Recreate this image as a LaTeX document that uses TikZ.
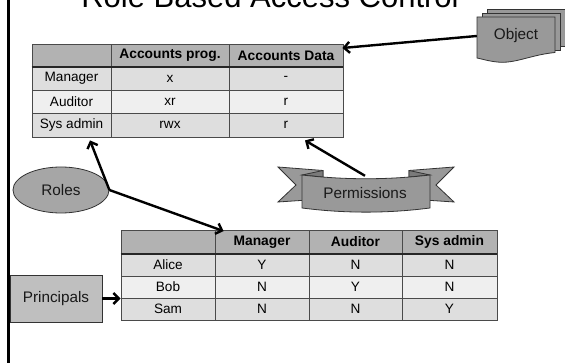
\documentclass[tikz,border=0pt]{standalone}
\usepackage{fontspec}
\setmainfont{Liberation Sans}
\usetikzlibrary{arrows.meta,shapes.geometric}

\definecolor{hdrgray}{HTML}{B2B2B2}
\definecolor{rowdark}{HTML}{DEDEDE}
\definecolor{rowlight}{HTML}{EFEFEF}
\definecolor{gridline}{HTML}{4A4A4A}
\definecolor{shapegray}{HTML}{999999}
\definecolor{rolegray}{HTML}{A6A6A6}
\definecolor{princgray}{HTML}{BFBFBF}
\definecolor{foldgray}{HTML}{7A7A7A}

\tikzset{
  cellbox/.style={draw=gridline, line width=0.8pt, inner sep=0pt, anchor=center,
    font=\fontsize{13.6}{15}\selectfont},
  hdrcell/.style={cellbox, fill=hdrgray, font=\fontsize{13.8}{15}\selectfont\bfseries},
  rowA/.style={cellbox, fill=rowdark},
  rowB/.style={cellbox, fill=rowlight},
  hdrline/.style={draw=black!85, line width=1.8pt},
  arr/.style={line width=2.4pt, -{Straight Barb[length=5.5pt,width=11pt]}},
  label/.style={font=\fontsize{15.3}{18}\selectfont, text=black!90},
  shapeline/.style={draw=black!80, line width=0.8pt},
}

% one table cell: name, centre x, centre y, width, height, style, text
\newcommand\tabcell[7]{%
  \node[#6, minimum width=#4pt, minimum height=#5pt] (#1) at (#2,#3) {#7};}

\begin{document}
\begin{tikzpicture}[x=1pt,y=-1pt]
\useasboundingbox (0,0) rectangle (565,363);
\fill[white] (0,0) rectangle (565,363);

% title, running off the top edge
\begin{scope}
\clip (0,0) rectangle (565,363);
\node[anchor=base, font=\fontsize{31}{36}\selectfont, inner sep=0pt] (title) at (270,7.5) {Role Based Access Control};
\end{scope}

% left margin rule
\draw[line width=2.7pt] (8.7,0) -- (8.7,363);

% ---------- permission table ----------
\tabcell{ta00}{71.5}{55.5}{79}{23}{hdrcell}{}
\tabcell{ta01}{170}{55.5}{118}{23}{hdrcell}{Accounts prog.}
\tabcell{ta02}{286}{55.5}{114}{23}{hdrcell}{Accounts Data}
\tabcell{ta10}{71.5}{78.5}{79}{23}{rowA}{Manager}
\tabcell{ta11}{170}{78.5}{118}{23}{rowA}{x}
\tabcell{ta12}{286}{78.5}{114}{23}{rowA}{-}
\tabcell{ta20}{71.5}{101.5}{79}{23}{rowB}{Auditor}
\tabcell{ta21}{170}{101.5}{118}{23}{rowB}{xr}
\tabcell{ta22}{286}{101.5}{114}{23}{rowB}{r}
\tabcell{ta30}{71.5}{125}{79}{24}{rowA}{Sys admin}
\tabcell{ta31}{170}{125}{118}{24}{rowA}{rwx}
\tabcell{ta32}{286}{125}{114}{24}{rowA}{r}
\draw[hdrline] (ta00.south west) -- (ta02.south east);

% ---------- role assignment table ----------
\tabcell{tb00}{168}{242}{94}{24}{hdrcell}{}
\tabcell{tb01}{262}{242}{94}{24}{hdrcell}{Manager}
\tabcell{tb02}{355.5}{242}{93}{24}{hdrcell}{Auditor}
\tabcell{tb03}{449.5}{242}{95}{24}{hdrcell}{Sys admin}
\tabcell{tb10}{168}{265}{94}{22}{rowA}{Alice}
\tabcell{tb11}{262}{265}{94}{22}{rowA}{Y}
\tabcell{tb12}{355.5}{265}{93}{22}{rowA}{N}
\tabcell{tb13}{449.5}{265}{95}{22}{rowA}{N}
\tabcell{tb20}{168}{287}{94}{22}{rowB}{Bob}
\tabcell{tb21}{262}{287}{94}{22}{rowB}{N}
\tabcell{tb22}{355.5}{287}{93}{22}{rowB}{Y}
\tabcell{tb23}{449.5}{287}{95}{22}{rowB}{N}
\tabcell{tb30}{168}{309}{94}{22}{rowA}{Sam}
\tabcell{tb31}{262}{309}{94}{22}{rowA}{N}
\tabcell{tb32}{355.5}{309}{93}{22}{rowA}{N}
\tabcell{tb33}{449.5}{309}{95}{22}{rowA}{Y}
\draw[hdrline] (tb00.south west) -- (tb03.south east);

% ---------- stacked documents ----------
\begin{scope}
\clip (0,0) rectangle (565,363);
\filldraw[shapeline, fill=shapegray] (487,9) rectangle (566,46);
\filldraw[shapeline, fill=shapegray] (482,13) rectangle (560,50);
\filldraw[shapeline, fill=shapegray] (477,17) -- (555,17) -- (555,52.5)
  .. controls (530,55) and (515,64) .. (497,62)
  .. controls (488,61) and (482,59) .. (477,58) -- cycle;
\end{scope}
\node[label, minimum width=78pt, minimum height=38pt] (obj) at (516,36) {Object};

% ---------- ribbon ----------
\filldraw[shapeline, fill=shapegray] (278,167) -- (323,170.5) -- (323,199) -- (278,202) -- (296,185) -- cycle;
\filldraw[shapeline, fill=shapegray] (454,167) -- (409,170.5) -- (409,199) -- (454,202) -- (436,185) -- cycle;
\filldraw[shapeline, fill=foldgray] (302,175) -- (323,170.5) -- (323,177) -- cycle;
\filldraw[shapeline, fill=foldgray] (430,175) -- (409,170.5) -- (409,177) -- cycle;
\filldraw[shapeline, fill=shapegray] (302,175) .. controls (345,180) and (387,180) .. (430,175)
  -- (430,208) .. controls (387,213.5) and (345,213.5) .. (302,208) -- cycle;
\node[label, minimum width=128pt, minimum height=34pt, inner sep=0pt] (perm) at (365,193) {Permissions};

% ---------- roles and principals ----------
\node[label, ellipse, shapeline, fill=rolegray, minimum width=96pt, minimum height=46pt, inner sep=0pt] (roles) at (61,190) {Roles};
\node[label, rectangle, shapeline, fill=princgray, minimum width=92pt, minimum height=47pt, inner sep=0pt] (prin) at (56,298.5) {Principals};

% ---------- connectors ----------
\draw[arr] (obj.west) -- ([xshift=-1pt,yshift=7.5pt]ta02.east);
\draw[arr] (roles.east) -- ([xshift=18.5pt,yshift=-3pt]ta30.south);
\draw[arr] (roles.east) -- ([xshift=9pt,yshift=-1.5pt]tb01.north west);
\draw[arr] (perm.north) -- ([xshift=19pt,yshift=-3pt]ta32.south);
\draw[arr] (prin.east) -- (prin.east -| tb20.west);
\end{tikzpicture}
\end{document}
